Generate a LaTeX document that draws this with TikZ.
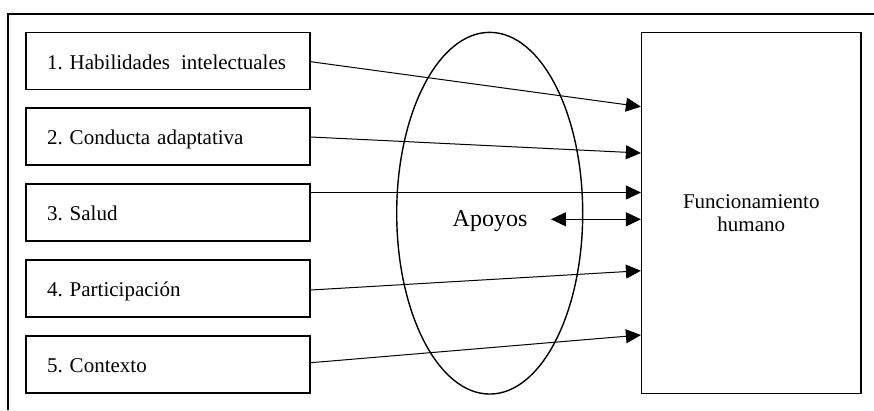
\documentclass[tikz,border=0pt]{standalone}
\usepackage{fontspec}
\setmainfont{Liberation Serif}
\frenchspacing
\usetikzlibrary{arrows.meta,shapes.geometric}
\begin{document}
\begin{tikzpicture}[x=1pt,y=-1pt,
  txt/.style={font=\fontsize{21}{23.5}\selectfont\frenchspacing},
  itembox/.style={txt,draw,line width=1.5pt,minimum width=284pt,minimum height=57pt,
    text width=242pt,inner xsep=21pt,inner ysep=0pt,align=left,text height=20pt,text depth=4pt},
  conn/.style={line width=1pt,-{Triangle[length=15pt,width=14pt]}},
  dconn/.style={line width=1pt,{Triangle[length=15pt,width=14pt]}-{Triangle[length=15pt,width=14pt]}}]
\useasboundingbox (0,0) rectangle (874,410);
% frame (top and left sides visible)
\draw[line width=1.5pt] (874,14) -- (8,14) -- (8,410);
% left boxes
\node[itembox] (b1) at (168,61)  {\mbox{1. Habilidades\hspace{4pt} intelectuales}};
\node[itembox] (b2) at (168,136.3) {2. Conducta adaptativa};
\node[itembox] (b3) at (168,212.3) {3. Salud};
\node[itembox] (b4) at (168,288.3) {4. Participación};
\node[itembox] (b5) at (168,364.7) {5. Contexto};
% right box
\node[txt,draw,line width=1.5pt,minimum width=219.3pt,minimum height=360.6pt,align=center,inner sep=0pt] (fh) at (751.3,213)
  {Funcionamiento\\humano};
% ellipse
\node[draw,ellipse,line width=1.4pt,minimum width=186pt,minimum height=361.7pt,inner sep=0pt] (sup) at (489.7,213.2) {};
\node[font=\fontsize{24}{28}\selectfont,anchor=base,inner xsep=23.4pt] (apoyos) at (490,226) {Apoyos};
% connectors
\draw[conn] (b1.east |- {(0,61.7)}) -- (fh.west |- {(0,106.7)});
\draw[conn] (b2.east |- {(0,137)}) -- (fh.west |- {(0,153)});
\draw[conn] (b3.east |- {(0,192.5)}) -- (fh.west |- {(0,192.5)});
\draw[conn] (b4.east |- {(0,290)}) -- (fh.west |- {(0,270.7)});
\draw[conn] (b5.east |- {(0,362.7)}) -- (fh.west |- {(0,335)});
\draw[dconn] (apoyos.east |- {(0,219.3)}) -- (fh.west |- {(0,219.3)});
\end{tikzpicture}
\end{document}
